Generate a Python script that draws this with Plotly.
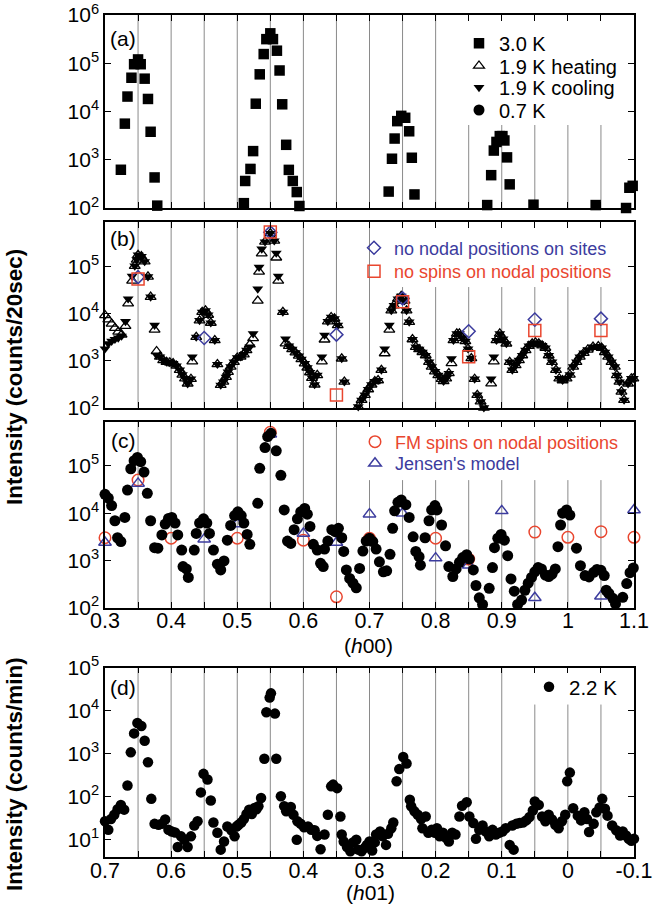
import plotly.graph_objects as go

# ---------------- data ----------------
# (a) 3.0 K, (h00) scan, counts/20sec
H_A = [0.324, 0.330, 0.334, 0.340, 0.344, 0.350, 0.354, 0.360, 0.365, 0.369, 0.375, 0.379,
       0.510, 0.512, 0.520, 0.524, 0.528, 0.534, 0.540, 0.544, 0.550, 0.554, 0.560, 0.564, 0.568,
       0.574, 0.578, 0.584, 0.590, 0.594,
       0.729, 0.734, 0.738, 0.742, 0.748, 0.754, 0.760, 0.764, 0.768,
       0.878, 0.884, 0.888, 0.892, 0.897, 0.901, 0.904, 0.908, 0.912, 0.948, 1.042, 1.088, 1.093, 1.098]
I_A_30K = [620, 5600, 20400, 50100, 95500, 120000, 95500, 47900, 18200, 3800, 430, 112,
           126, 363, 646, 1510, 14500, 58900, 155000, 316000, 417000, 316000, 182000, 70800, 14100,
           2040, 617, 363, 214, 110,
           219, 1050, 2750, 6310, 8130, 7410, 3890, 1100, 191,
           115, 479, 1550, 2340, 3090, 3090, 2510, 1120, 309, 117, 115, 100, 263, 288]

# (b) 1.9 K heating / cooling
H_B = [0.300, 0.305, 0.310, 0.315, 0.320, 0.325, 0.331, 0.335, 0.341, 0.345,
       0.348, 0.350, 0.355, 0.360, 0.365, 0.369, 0.375, 0.378, 0.383, 0.388,
       0.393, 0.398, 0.403, 0.408, 0.413, 0.417, 0.421, 0.425, 0.430, 0.432,
       0.438, 0.443, 0.447, 0.452, 0.456, 0.460, 0.466, 0.470, 0.475, 0.479,
       0.483, 0.486, 0.490, 0.495, 0.500, 0.505, 0.510, 0.514, 0.519, 0.524,
       0.531, 0.533, 0.537, 0.542, 0.550, 0.556, 0.559, 0.562, 0.569, 0.573,
       0.578, 0.583, 0.588, 0.593, 0.597, 0.602, 0.606, 0.610, 0.613, 0.617,
       0.621, 0.628, 0.632, 0.637, 0.642, 0.647, 0.652, 0.658, 0.662, 0.683,
       0.688, 0.693, 0.698, 0.703, 0.708, 0.713, 0.718, 0.723, 0.730, 0.733,
       0.737, 0.743, 0.748, 0.753, 0.756, 0.760, 0.765, 0.770, 0.775, 0.780,
       0.785, 0.790, 0.794, 0.799, 0.804, 0.809, 0.812, 0.816, 0.820, 0.824,
       0.827, 0.832, 0.836, 0.840, 0.845, 0.849, 0.854, 0.859, 0.863, 0.868,
       0.873, 0.884, 0.888, 0.892, 0.897, 0.902, 0.907, 0.912, 0.916, 0.921,
       0.926, 0.931, 0.936, 0.941, 0.946, 0.951, 0.956, 0.961, 0.966, 0.971,
       0.976, 0.982, 0.987, 0.992, 0.998, 1.003, 1.008, 1.013, 1.018, 1.024,
       1.030, 1.038, 1.046, 1.051, 1.056, 1.061, 1.066, 1.071, 1.074, 1.078,
       1.081, 1.085, 1.091, 1.096, 1.099]
I_B_HEAT = [9120, 7410, 6030, 4900, 4070, 3550, 5400, 16300, 49400, 102000,
            138000, 174000, 162000, 126000, 60300, 22400, 4500, 1580, 1200, 1020,
            933, 912, 871, 776, 631, 501, 417, 324, 407, 960,
            3160, 7080, 10700, 11500, 9330, 6310, 2690, 832, 302, 355,
            447, 575, 741, 933, 1150, 1200, 1350, 1660, 2190, 2980,
            18600, 76400, 187000, 331000, 501000, 347000, 153000, 49400, 10700, 2300,
            2040, 1740, 1480, 1260, 1070, 871, 708, 562, 427, 309,
            490, 960, 2780, 6760, 8320, 7760, 5620, 1100, 355, 105,
            145, 186, 245, 309, 363, 380, 631, 1420, 4500, 11500,
            14800, 20400, 23400, 18600, 11500, 6610, 2820, 1950, 1740, 1510,
            1290, 933, 741, 589, 490, 407, 363, 417, 537, 880,
            2690, 3720, 3720, 3020, 2570, 1780, 1120, 407, 186, 135,
            100, 326, 960, 2690, 3720, 2880, 2290, 933, 631, 794,
            1020, 1290, 1660, 2040, 2290, 2400, 2290, 2090, 1860, 1290,
            933, 631, 417, 380, 417, 501, 741, 933, 1200, 1450,
            1700, 1950, 2000, 1860, 1510, 1200, 933, 741, 490, 355,
            219, 145, 324, 417, 417]
I_B_COOL = [1780, 2290, 2570, 2820, 3020, 3310, 6760, 20400, 61700, 102000,
            138000, 174000, 162000, 126000, 60300, 22400, 5620, 1320, 1200, 1020,
            933, 912, 871, 776, 631, 501, 417, 324, 407, 1200,
            3160, 7080, 10700, 11500, 9330, 6310, 2690, 832, 302, 355,
            447, 575, 741, 933, 1150, 1200, 1350, 1660, 1950, 3720,
            33000, 95500, 234000, 331000, 501000, 347000, 191000, 61700, 10700, 2880,
            2040, 1740, 1480, 1260, 1070, 871, 708, 562, 427, 309,
            490, 1200, 3470, 6760, 8320, 7760, 5620, 1100, 355, 105,
            145, 186, 245, 309, 363, 380, 631, 1780, 5620, 11500,
            14800, 20400, 23400, 18600, 11500, 6610, 2820, 1950, 1740, 1510,
            1290, 933, 741, 589, 490, 407, 363, 417, 537, 1100,
            2690, 3720, 3720, 3020, 2570, 1780, 1120, 407, 186, 135,
            100, 407, 1200, 2690, 3720, 2880, 2290, 933, 631, 794,
            1020, 1290, 1660, 2040, 2290, 2400, 2290, 2090, 1860, 1290,
            933, 631, 417, 380, 417, 501, 741, 933, 1200, 1450,
            1700, 1950, 2000, 1860, 1510, 1200, 933, 741, 490, 355,
            219, 145, 324, 417, 417]

# (b) calculated intensities
H_B_NONODAL = [0.35, 0.45, 0.55, 0.65, 0.75, 0.85, 0.95, 1.05]
I_B_NONODAL = [58900, 3020, 525000, 3550, 20900, 4170, 7410, 7760]
H_B_NOSPIN = [0.35, 0.55, 0.65, 0.75, 0.85, 0.95, 1.05]
I_B_NOSPIN = [53700, 537000, 186, 17800, 1200, 4370, 4370]

# (c) 0.7 K
H_C = [0.300, 0.305, 0.310, 0.315, 0.319, 0.324, 0.330, 0.334, 0.339, 0.344,
       0.349, 0.354, 0.359, 0.364, 0.369, 0.375, 0.380, 0.386, 0.391, 0.396,
       0.401, 0.406, 0.410, 0.416, 0.418, 0.423, 0.426, 0.435, 0.438, 0.443,
       0.449, 0.454, 0.458, 0.464, 0.470, 0.475, 0.480, 0.485, 0.490, 0.496,
       0.501, 0.506, 0.510, 0.515, 0.519, 0.531, 0.534, 0.542, 0.546, 0.551,
       0.559, 0.566, 0.571, 0.576, 0.581, 0.586, 0.591, 0.596, 0.602, 0.606,
       0.610, 0.615, 0.621, 0.626, 0.630, 0.632, 0.637, 0.643, 0.648, 0.653,
       0.658, 0.661, 0.665, 0.670, 0.675, 0.680, 0.685, 0.690, 0.695, 0.700,
       0.705, 0.710, 0.715, 0.721, 0.726, 0.731, 0.735, 0.738, 0.743, 0.748,
       0.755, 0.760, 0.766, 0.770, 0.775, 0.777, 0.784, 0.790, 0.794, 0.799,
       0.802, 0.809, 0.815, 0.820, 0.826, 0.831, 0.836, 0.841, 0.847, 0.851,
       0.857, 0.861, 0.866, 0.871, 0.881, 0.886, 0.889, 0.894, 0.899, 0.904,
       0.909, 0.914, 0.919, 0.924, 0.930, 0.935, 0.940, 0.945, 0.950, 0.955,
       0.960, 0.966, 0.971, 0.976, 0.981, 0.985, 0.989, 0.992, 0.998, 1.003,
       1.013, 1.019, 1.026, 1.032, 1.039, 1.044, 1.050, 1.055, 1.058, 1.062,
       1.068, 1.072, 1.083, 1.089, 1.094, 1.099]
I_C_07K = [25100, 20900, 14500, 6920, 3020, 2510, 8130, 30900, 87100, 129000,
           151000, 123000, 74100, 26300, 6920, 1860, 1820, 3470, 5890, 7760,
           8130, 6170, 3470, 1660, 741, 661, 437, 1660, 3720, 6170,
           7590, 6170, 3720, 1660, 832, 631, 977, 2690, 5500, 8910,
           10700, 8910, 6170, 3550, 2190, 16200, 89100, 245000, 417000, 490000,
           209000, 63100, 11700, 2570, 2290, 4470, 7590, 10700, 12600, 9550,
           5250, 2190, 1660, 871, 741, 1740, 2570, 4470, 4070, 4790,
           3020, 1550, 631, 417, 331, 263, 676, 1580, 2570, 2950,
           2510, 1740, 933, 575, 603, 1350, 4790, 11200, 17000, 19100,
           15100, 8130, 3160, 1550, 1200, 794, 3020, 6920, 11700, 14500,
           11700, 5620, 2040, 741, 457, 661, 912, 1150, 1320, 1070,
           631, 295, 162, 117, 257, 708, 1860, 2950, 3550, 2690,
           1260, 407, 224, 117, 145, 234, 331, 437, 575, 708,
           661, 490, 457, 513, 661, 1950, 5620, 10000, 11700, 9120,
           1820, 776, 479, 447, 562, 646, 617, 479, 234, 200,
           158, 120, 166, 324, 550, 692]

# (c) calculated intensities
H_C_FM = [0.30, 0.35, 0.40, 0.50, 0.55, 0.60, 0.65, 0.70, 0.80, 0.85, 0.95, 1.00, 1.05, 1.10]
I_C_FM = [3020, 50100, 2950, 2950, 513000, 2690, 170, 2950, 2950, 1070, 3980, 3090, 4070, 3090]
H_C_JENSEN = [0.30, 0.35, 0.45, 0.50, 0.55, 0.60, 0.65, 0.70, 0.75, 0.80, 0.85, 0.90, 0.95, 1.05, 1.10]
I_C_JENSEN = [2400, 42700, 2820, 5890, 468000, 3720, 2400, 9550, 10000, 1120, 794, 11200, 162, 174, 11700]

# (d) 2.2 K, (h01) scan, counts/min
H_D = [0.700, 0.695, 0.691, 0.686, 0.681, 0.676, 0.671, 0.666, 0.661, 0.656,
       0.651, 0.645, 0.640, 0.635, 0.630, 0.625, 0.619, 0.614, 0.609, 0.604,
       0.599, 0.594, 0.590, 0.585, 0.580, 0.575, 0.570, 0.565, 0.560, 0.555,
       0.551, 0.545, 0.540, 0.536, 0.530, 0.525, 0.520, 0.515, 0.509, 0.504,
       0.501, 0.498, 0.494, 0.490, 0.486, 0.482, 0.478, 0.474, 0.471, 0.468,
       0.464, 0.459, 0.456, 0.451, 0.449, 0.443, 0.441, 0.434, 0.429, 0.426,
       0.419, 0.415, 0.410, 0.409, 0.404, 0.399, 0.393, 0.388, 0.383, 0.379,
       0.374, 0.368, 0.363, 0.358, 0.355, 0.349, 0.344, 0.342, 0.339, 0.334,
       0.329, 0.325, 0.320, 0.317, 0.312, 0.307, 0.304, 0.300, 0.296, 0.292,
       0.290, 0.284, 0.280, 0.275, 0.272, 0.267, 0.264, 0.259, 0.255, 0.249,
       0.244, 0.239, 0.237, 0.232, 0.227, 0.222, 0.220, 0.215, 0.211, 0.206,
       0.201, 0.198, 0.194, 0.189, 0.184, 0.180, 0.175, 0.170, 0.164, 0.160,
       0.153, 0.149, 0.143, 0.139, 0.134, 0.129, 0.124, 0.119, 0.114, 0.109,
       0.104, 0.099, 0.094, 0.088, 0.084, 0.082, 0.078, 0.073, 0.068, 0.063,
       0.058, 0.053, 0.050, 0.044, 0.039, 0.034, 0.029, 0.024, 0.019, 0.014,
       0.009, 0.004, 0.001, -0.003, -0.008, -0.015, -0.020, -0.025, -0.029, -0.032,
       -0.039, -0.043, -0.048, -0.052, -0.056, -0.060, -0.067, -0.073, -0.079, -0.083,
       -0.088, -0.092, -0.096, -0.100]
I_D_22K = [26.9, 17.0, 30.2, 38.0, 51.3, 64.6, 50.1, 182, 1070, 2950,
           5130, 4370, 2000, 631, 89.1, 23.4, 22.4, 23.4, 29.5, 17.0,
           15.5, 14.8, 6.8, 12.0, 10.0, 6.8, 12.0, 21.4, 26.9, 126,
           339, 251, 81.3, 25.1, 14.5, 5.9, 9.1, 20.4, 16.6, 12.0,
           20.4, 22.4, 25.1, 30.2, 39.8, 50.1, 39.8, 55.0, 51.3, 60.3,
           93.3, 759, 9120, 20000, 25100, 8510, 759, 102, 60.3, 45.7,
           57.5, 38.0, 10.0, 26.9, 23.4, 19.5, 20.4, 17.0, 16.6, 12.3,
           6.0, 13.2, 38.0, 174, 191, 158, 34.7, 13.2, 9.1, 6.8,
           5.4, 8.7, 10.0, 5.9, 5.4, 6.5, 7.6, 9.1, 5.6, 8.7,
           13.2, 15.5, 12.0, 7.6, 13.8, 18.6, 25.1, 229, 437, 832,
           589, 85.1, 60.3, 45.7, 38.0, 30.2, 18.6, 34.7, 14.5, 17.0,
           14.5, 18.6, 12.0, 14.5, 11.0, 9.1, 14.5, 13.2, 34.7, 61.7,
           74.1, 34.7, 24.5, 10.5, 17.0, 21.4, 15.5, 12.0, 17.0, 13.2,
           14.5, 15.5, 18.6, 7.6, 21.4, 5.9, 23.4, 24.5, 25.1, 28.2,
           33.9, 47.9, 77.6, 64.6, 34.7, 26.9, 38.0, 29.5, 22.4, 18.6,
           26.9, 38.0, 229, 363, 53.7, 36.3, 28.2, 43.7, 30.2, 15.1,
           23.4, 43.7, 56.2, 89.1, 52.5, 36.3, 21.4, 16.6, 12.6, 15.5,
           12.6, 10.5, 9.5, 10.5]

# axis ticks (labelled every 0.1, guide lines every 0.05)
TICK_H00 = [0.3, 0.4, 0.5, 0.6, 0.7, 0.8, 0.9, 1.0, 1.1]
TICK_H00_TEXT = ["0.3", "0.4", "0.5", "0.6", "0.7", "0.8", "0.9", "1", "1.1"]
GUIDE_H00 = [0.35, 0.40, 0.45, 0.50, 0.55, 0.60, 0.65, 0.70, 0.75, 0.80, 0.85, 0.90, 0.95, 1.00, 1.05]
TICK_H01 = [0.7, 0.6, 0.5, 0.4, 0.3, 0.2, 0.1, 0.0, -0.1]
TICK_H01_TEXT = ["0.7", "0.6", "0.5", "0.4", "0.3", "0.2", "0.1", "0", "-0.1"]
GUIDE_H01 = [0.65, 0.60, 0.55, 0.50, 0.45, 0.40, 0.35, 0.30, 0.25, 0.20, 0.15, 0.10, 0.05, 0.00, -0.05]
DECADES_A = [1e2, 1e3, 1e4, 1e5, 1e6]
DECADES_A_TEXT = ["10<sup>2</sup>", "10<sup>3</sup>", "10<sup>4</sup>", "10<sup>5</sup>", "10<sup>6</sup>"]
DECADES_BC = [1e2, 1e3, 1e4, 1e5]
DECADES_BC_TEXT = ["10<sup>2</sup>", "10<sup>3</sup>", "10<sup>4</sup>", "10<sup>5</sup>"]
DECADES_D = [1e1, 1e2, 1e3, 1e4, 1e5]
DECADES_D_TEXT = ["10<sup>1</sup>", "10<sup>2</sup>", "10<sup>3</sup>", "10<sup>4</sup>", "10<sup>5</sup>"]

# ---------------- layout geometry (pixels) ----------------
W, H = 653, 909
ML, MR, MT, MB = 105, 19, 15, 52
PW, PH = W - ML - MR, H - MT - MB
FONT = "Liberation Sans, Arial, sans-serif"
BLUE = "#3c3c9e"
RED = "#e9462f"
GRID = "#8a8a8a"


def fx(px):
    return (px - ML) / PW


def fy(py):
    return (H - MB - py) / PH


DOM_A = [fy(208), fy(15)]
DOM_B = [fy(407.7), fy(222)]
DOM_C = [fy(607.7), fy(421.5)]
DOM_D = [fy(857), fy(667.5)]
RANGE_A = [2, 6]
RANGE_BC = [2, 5.94]
RANGE_D = [0.6, 5.0]

fig = go.Figure()


def scatter(x, y, xa, ya, name, legend, symbol, size, color="black", lw=0):
    fig.add_trace(go.Scatter(
        x=x, y=y, xaxis=xa, yaxis=ya, mode="markers", name=name,
        legend=legend, showlegend=True, cliponaxis=False,
        marker=dict(symbol=symbol, size=size, color=color,
                    line=dict(width=lw, color=color)),
    ))


# (a)
scatter(H_A, I_A_30K, "x", "y", "3.0 K", "legend", "square", 10.5)
# (b)
scatter(H_B, I_B_HEAT, "x2", "y2", "1.9 K heating", "legend2", "triangle-up-open", 9.5, lw=1.3)
scatter(H_B, I_B_COOL, "x2", "y2", "1.9 K cooling", "legend3", "triangle-down", 9.5)
scatter(H_B_NONODAL, I_B_NONODAL, "x2", "y2", "no nodal positions on sites", "legend5",
        "diamond-open", 10, color=BLUE, lw=1.5)
scatter(H_B_NOSPIN, I_B_NOSPIN, "x2", "y2", "no spins on nodal positions", "legend6",
        "square-open", 12, color=RED, lw=1.5)
# (c)
scatter(H_C_FM, I_C_FM, "x3", "y3", "FM spins on nodal positions", "legend7",
        "circle-open", 11.5, color=RED, lw=1.5)
scatter(H_C_JENSEN, I_C_JENSEN, "x3", "y3", "Jensen's model", "legend8",
        "triangle-up-open", 11, color=BLUE, lw=1.5)
scatter(H_C, I_C_07K, "x3", "y3", "0.7 K", "legend4", "circle", 11)
# (d)
scatter(H_D, I_D_22K, "x4", "y4", "2.2 K", "legend9", "circle", 10.5)

axis_common = dict(showline=True, linecolor="black", linewidth=1.5, mirror="ticks",
                   ticks="inside", ticklen=6, tickwidth=1.2, tickcolor="black",
                   showgrid=False, zeroline=False,
                   tickfont=dict(family=FONT, size=21, color="black"))


def xaxis(anchor, rng, vals, text, labels):
    d = dict(axis_common, anchor=anchor, domain=[0, 1], range=rng, tickmode="array",
             tickvals=vals, ticktext=text, showticklabels=labels, ticklabelstandoff=-7,
             minor=dict(dtick=0.05, tick0=0, ticks="inside", ticklen=6, tickwidth=1.2,
                        tickcolor="black", showgrid=False))
    d["tickfont"] = dict(family=FONT, size=21.5, color="black")
    return d


def yaxis(anchor, dom, rng, vals, text):
    return dict(axis_common, anchor=anchor, domain=dom, type="log", range=rng,
                tickmode="array", tickvals=vals, ticktext=text)


fig.update_layout(
    xaxis=xaxis("y", [0.3, 1.1], TICK_H00, TICK_H00_TEXT, False),
    xaxis2=xaxis("y2", [0.3, 1.1], TICK_H00, TICK_H00_TEXT, False),
    xaxis3=xaxis("y3", [0.3, 1.1], TICK_H00, TICK_H00_TEXT, True),
    xaxis4=xaxis("y4", [0.7, -0.1], TICK_H01, TICK_H01_TEXT, True),
    yaxis=yaxis("x", DOM_A, RANGE_A, DECADES_A, DECADES_A_TEXT),
    yaxis2=yaxis("x2", DOM_B, RANGE_BC, DECADES_BC, DECADES_BC_TEXT),
    yaxis3=yaxis("x3", DOM_C, RANGE_BC, DECADES_BC, DECADES_BC_TEXT),
    yaxis4=yaxis("x4", DOM_D, RANGE_D, DECADES_D, DECADES_D_TEXT),
)

# vertical guide lines at every 0.05 step; some stop below the legend block
shapes = []


def guides(xref, yref, positions, rng, cut_test, cut_log):
    for h in positions:
        top = 1.0
        if cut_test(h):
            top = (cut_log - rng[0]) / (rng[1] - rng[0])
        shapes.append(dict(type="line", xref=xref, yref=yref + " domain", x0=h, x1=h,
                           y0=0, y1=top, layer="below",
                           line=dict(color=GRID, width=1)))


guides("x", "y", GUIDE_H00, RANGE_A, lambda h: h >= 0.845, 3.72)
guides("x2", "y2", GUIDE_H00, RANGE_BC, lambda h: h >= 0.745, 4.56)
guides("x3", "y3", GUIDE_H00, RANGE_BC, lambda h: h >= 0.695, 4.70)
guides("x4", "y4", GUIDE_H01, RANGE_D, lambda h: h <= 0.055, 4.14)
fig.update_layout(shapes=shapes)


def leg(sym_x, cy, size=20, color="black"):
    return dict(x=fx(sym_x - 20), y=fy(cy), xanchor="left", yanchor="middle",
                bgcolor="rgba(0,0,0,0)", borderwidth=0, itemwidth=30,
                font=dict(family=FONT, size=size, color=color))


fig.update_layout(
    legend=leg(479, 43.3),
    legend2=leg(479, 65.7),
    legend3=leg(479, 87.5),
    legend4=leg(479, 110),
    legend5=leg(374, 248, 18, BLUE),
    legend6=leg(374, 271.5, 18, RED),
    legend7=leg(375, 442, 18, RED),
    legend8=leg(375, 463.5, 18, BLUE),
    legend9=leg(549, 687, 20.5),
)

ann = []


def text(px, py, s, size=21, angle=0, xanchor="center"):
    ann.append(dict(x=fx(px), y=fy(py), xref="paper", yref="paper", text=s,
                    showarrow=False, textangle=angle, xanchor=xanchor, yanchor="middle",
                    font=dict(family=FONT, size=size, color="black")))


text(123, 39, "(a)")
text(123, 238, "(b)")
text(123, 440, "(c)")
text(123, 687, "(d)")
text(368, 645, "(<i>h</i>00)", 21)
text(370, 893, "(<i>h</i>01)", 21)
text(14, 377, "<b>Intensity (counts/20sec)</b>", 22.5, -90)
text(14, 774, "<b>Intensity (counts/min)</b>", 22.5, -90)
fig.update_layout(annotations=ann)

fig.update_layout(
    width=W, height=H, margin=dict(l=ML, r=MR, t=MT, b=MB, autoexpand=False),
    paper_bgcolor="white", plot_bgcolor="white",
    font=dict(family=FONT, color="black"),
)

fig.write_html("out.html")
